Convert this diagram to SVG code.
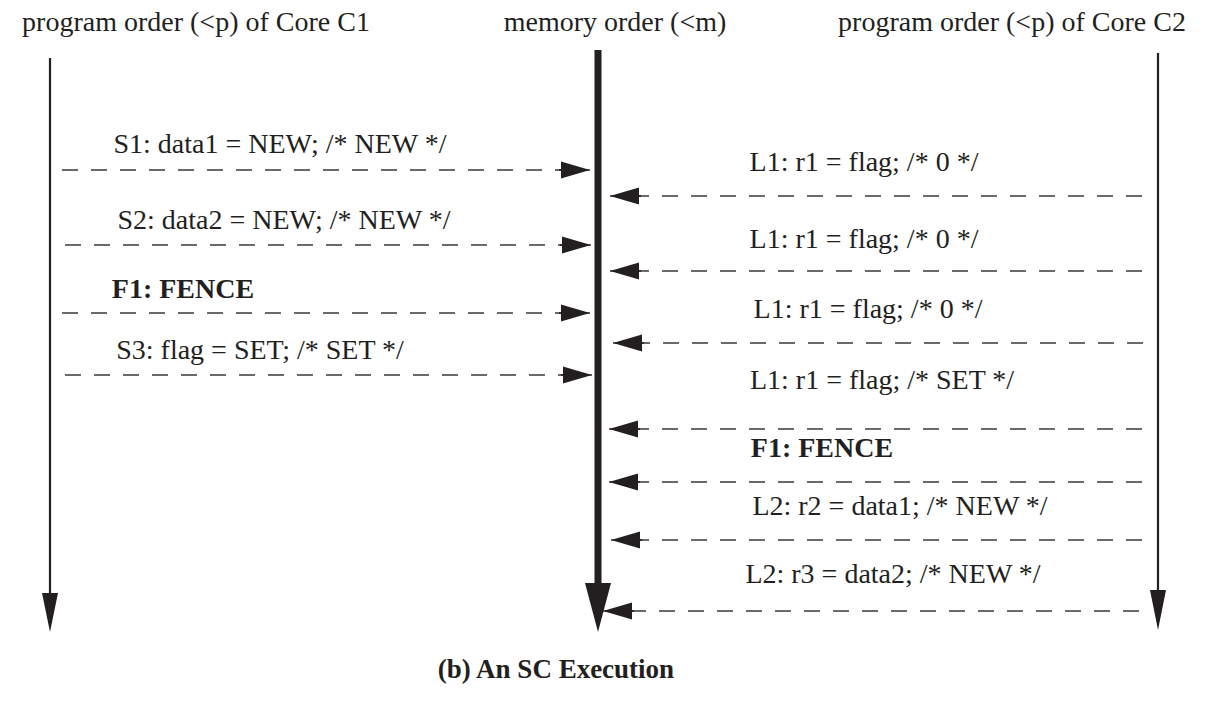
<svg xmlns="http://www.w3.org/2000/svg" width="1215" height="705" viewBox="0 0 1215 705">
<style>
text{font-family:"Liberation Serif","Times New Roman",serif;font-size:28px;fill:#231f20;text-anchor:middle}
.b{font-weight:bold}
.cap{font-size:27px}
.dash{stroke:#3a3a3a;stroke-width:1.5;stroke-dasharray:16 13;fill:none}
.axis{stroke:#231f20;stroke-width:2.2;fill:none}
.head{fill:#231f20}
</style>
<defs>
<marker id="ah" markerUnits="userSpaceOnUse" markerWidth="40" markerHeight="22" refX="31" refY="11" orient="auto">
<path d="M0,11 H8" stroke="#231f20" stroke-width="1.6"/>
<path d="M2,2.5 L31,11 L2,19.5 Z" fill="#231f20"/>
</marker>
</defs>
<rect width="1215" height="705" fill="#fff"/>
<g id="core1">
<text x="196" y="31">program order (&lt;p) of Core C1</text>
<line class="axis" x1="50" y1="58" x2="50" y2="598"/>
<path class="head" d="M42,593 L58,593 L50,632 Z"/>
</g>
<g id="memory">
<text x="615" y="31">memory order (&lt;m)</text>
<line x1="598" y1="50" x2="598" y2="590" stroke="#231f20" stroke-width="7"/>
<path class="head" d="M585,583 L611,583 L598,632 Z"/>
</g>
<g id="core2">
<text x="1012" y="31">program order (&lt;p) of Core C2</text>
<line class="axis" x1="1158" y1="53" x2="1158" y2="595"/>
<path class="head" d="M1150,590 L1166,590 L1158,630 Z"/>
</g>
<g id="connectors">
<line class="dash" x1="62" y1="170" x2="590" y2="170" marker-end="url(#ah)"/>
<line class="dash" x1="65" y1="245" x2="591" y2="245" marker-end="url(#ah)"/>
<line class="dash" x1="62" y1="313" x2="590" y2="313" marker-end="url(#ah)"/>
<line class="dash" x1="65" y1="375" x2="592" y2="375" marker-end="url(#ah)"/>
<line class="dash" x1="1142" y1="196" x2="610" y2="196" marker-end="url(#ah)"/>
<line class="dash" x1="1142" y1="271" x2="610" y2="271" marker-end="url(#ah)"/>
<line class="dash" x1="1143" y1="343" x2="613" y2="343" marker-end="url(#ah)"/>
<line class="dash" x1="1142" y1="429" x2="609" y2="429" marker-end="url(#ah)"/>
<line class="dash" x1="1142" y1="482" x2="609" y2="482" marker-end="url(#ah)"/>
<line class="dash" x1="1142" y1="540" x2="611" y2="540" marker-end="url(#ah)"/>
<line class="dash" x1="1139" y1="611" x2="603" y2="611" marker-end="url(#ah)"/>
</g>
<g id="labels">
<text x="280" y="153">S1: data1 = NEW; /* NEW */</text>
<text x="284" y="229">S2: data2 = NEW; /* NEW */</text>
<text class="b" x="183" y="298">F1: FENCE</text>
<text x="260" y="359">S3: flag = SET; /* SET */</text>
<text x="864" y="171">L1: r1 = flag; /* 0 */</text>
<text x="864" y="248">L1: r1 = flag; /* 0 */</text>
<text x="868" y="318">L1: r1 = flag; /* 0 */</text>
<text x="882" y="389">L1: r1 = flag; /* SET */</text>
<text class="b" x="822" y="457">F1: FENCE</text>
<text x="900" y="515">L2: r2 = data1; /* NEW */</text>
<text x="893" y="583">L2: r3 = data2; /* NEW */</text>
</g>
<g id="caption">
<text class="b cap" x="556" y="678">(b) An SC Execution</text>
</g>
</svg>
